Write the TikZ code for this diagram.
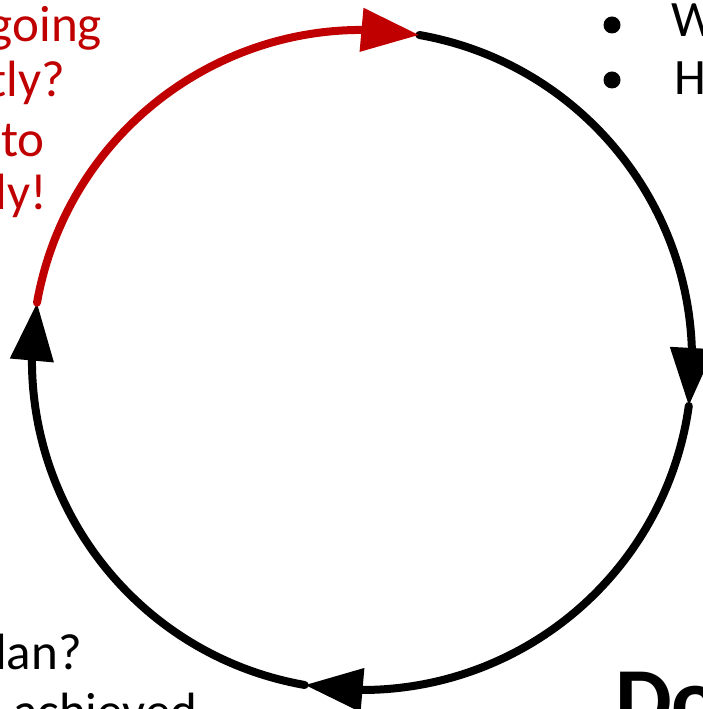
\documentclass[tikz,border=0pt]{standalone}
\usepackage{fontspec}
\setmainfont{Carlito}
\usetikzlibrary{arrows.meta,bending}
\definecolor{pdcared}{HTML}{C00000}
\begin{document}
\begin{tikzpicture}[x=1pt,y=1pt,
  cyc/.style={line width=8pt, line cap=round, -{Triangle[length=58pt,width=42pt]}},
  txt/.style={inner sep=0pt, font=\fontsize{51}{60}\selectfont},
  bul/.style={circle, fill=black, inner sep=0pt, minimum size=17pt},
]
\useasboundingbox (0,0) rectangle (703,709);
\coordinate (c) at (362,349);
\path (c) ++(80:330) coordinate (pa);
\path (c) ++(-8:330) coordinate (pb);
\path (c) ++(-100:330) coordinate (pc);
\path (c) ++(170:330) coordinate (pd);
\draw[cyc] (pa) arc[start angle=80,end angle=-8,radius=330];
\draw[cyc] (pb) arc[start angle=-8,end angle=-100,radius=330];
\draw[cyc] (pc) arc[start angle=-100,end angle=-190,radius=330];
\draw[cyc,pdcared] (pd) arc[start angle=170,end angle=80,radius=330];
% red text fragments
\node[txt,text=pdcared,anchor=base east] (r1) at (102,667) {going};
\node[txt,text=pdcared,anchor=base east] (r2) at (65,612) {ntly?};
\node[txt,text=pdcared,anchor=base east] (r3) at (45,552) {to};
\node[txt,text=pdcared,anchor=base east] (r4) at (47,499) {tly!};
% top right bullets
\node[bul] (b1) at (612,684) {};
\node[bul] (b2) at (612,629) {};
\node[txt,anchor=base west] (w1) at (671,672) {W};
\node[txt,anchor=base west] (h1) at (674,614) {H};
% bottom left
\node[txt,anchor=base east] (pl) at (82,39) {Plan?};
\node[txt,anchor=base west] (ac) at (13,-19) {achieved};
% bottom right
\node[inner sep=0pt,anchor=base west,font=\fontsize{90}{100}\selectfont\bfseries] (do) at (615,-21) {Do};
\end{tikzpicture}
\end{document}
